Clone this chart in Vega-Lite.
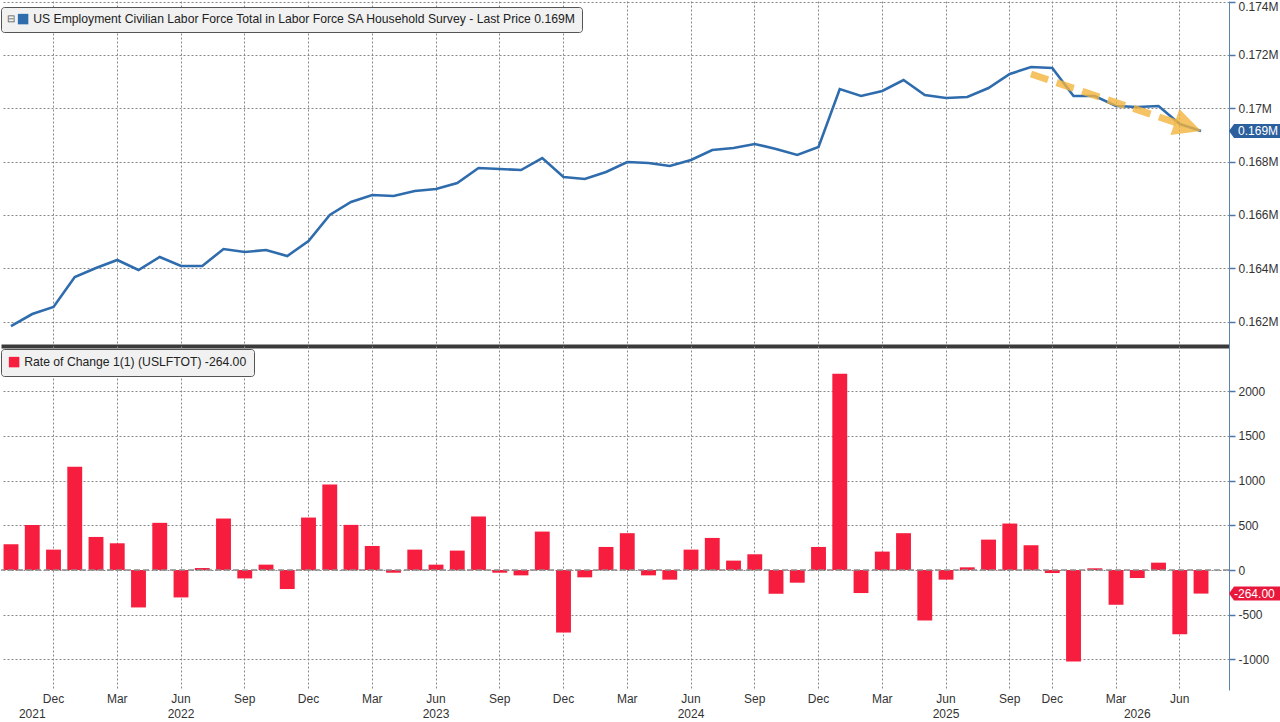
{
  "$schema": "https://vega.github.io/schema/vega-lite/v6.json",
  "padding": 0,
  "spacing": 0,
  "background": "#ffffff",
  "datasets": {
    "lf": [
      {"m": "2021-10", "v": 161832, "c": 288},
      {"m": "2021-11", "v": 162282, "c": 505},
      {"m": "2021-12", "v": 162545, "c": 228},
      {"m": "2022-01", "v": 163670, "c": 1156},
      {"m": "2022-02", "v": 164008, "c": 370},
      {"m": "2022-03", "v": 164308, "c": 299},
      {"m": "2022-04", "v": 163933, "c": -419},
      {"m": "2022-05", "v": 164421, "c": 528},
      {"m": "2022-06", "v": 164083, "c": -307},
      {"m": "2022-07", "v": 164083, "c": 22},
      {"m": "2022-08", "v": 164721, "c": 576},
      {"m": "2022-09", "v": 164609, "c": -94},
      {"m": "2022-10", "v": 164684, "c": 60},
      {"m": "2022-11", "v": 164458, "c": -213},
      {"m": "2022-12", "v": 165021, "c": 587},
      {"m": "2023-01", "v": 165997, "c": 958},
      {"m": "2023-02", "v": 166485, "c": 505},
      {"m": "2023-03", "v": 166747, "c": 269},
      {"m": "2023-04", "v": 166710, "c": -30},
      {"m": "2023-05", "v": 166897, "c": 228},
      {"m": "2023-06", "v": 166972, "c": 60},
      {"m": "2023-07", "v": 167197, "c": 217},
      {"m": "2023-08", "v": 167760, "c": 599},
      {"m": "2023-09", "v": 167723, "c": -30},
      {"m": "2023-10", "v": 167685, "c": -60},
      {"m": "2023-11", "v": 168135, "c": 430},
      {"m": "2023-12", "v": 167422, "c": -700},
      {"m": "2024-01", "v": 167347, "c": -82},
      {"m": "2024-02", "v": 167610, "c": 258},
      {"m": "2024-03", "v": 167985, "c": 412},
      {"m": "2024-04", "v": 167948, "c": -60},
      {"m": "2024-05", "v": 167835, "c": -108},
      {"m": "2024-06", "v": 168060, "c": 228},
      {"m": "2024-07", "v": 168436, "c": 359},
      {"m": "2024-08", "v": 168511, "c": 105},
      {"m": "2024-09", "v": 168661, "c": 176},
      {"m": "2024-10", "v": 168473, "c": -266},
      {"m": "2024-11", "v": 168248, "c": -142},
      {"m": "2024-12", "v": 168548, "c": 258},
      {"m": "2025-01", "v": 170724, "c": 2197},
      {"m": "2025-02", "v": 170462, "c": -258},
      {"m": "2025-03", "v": 170649, "c": 206},
      {"m": "2025-04", "v": 171062, "c": 412},
      {"m": "2025-05", "v": 170499, "c": -565},
      {"m": "2025-06", "v": 170387, "c": -108},
      {"m": "2025-07", "v": 170424, "c": 30},
      {"m": "2025-08", "v": 170762, "c": 340},
      {"m": "2025-09", "v": 171287, "c": 520},
      {"m": "2025-11", "v": 171550, "c": 277},
      {"m": "2025-12", "v": 171512, "c": -34},
      {"m": "2026-01", "v": 170462, "c": -1025},
      {"m": "2026-02", "v": 170462, "c": 19},
      {"m": "2026-03", "v": 170087, "c": -389},
      {"m": "2026-04", "v": 170049, "c": -90},
      {"m": "2026-05", "v": 170087, "c": 82},
      {"m": "2026-06", "v": 169411, "c": -718},
      {"m": "2026-07", "v": 169148, "c": -264}
    ],
    "arrow": [
      {"m": "2025-11", "v": 171287},
      {"m": "2026-06", "v": 169411}
    ],
    "head": [
      {"m": "2026-07", "v": 169148}
    ],
    "zero": [
      {"z": 0}
    ],
    "last": [
      {"m": "2026-07", "v": 169148, "c": -264, "vt": "0.169M", "ct": "-264.00"}
    ]
  },
  "resolve": {"scale": {"color": "independent"}, "legend": {"color": "independent"}},
  "vconcat": [
    {
      "width": 1228,
      "height": 345,
      "layer": [
        {
          "data": {"name": "lf"},
          "mark": {"type": "line", "strokeWidth": 2.6},
          "encoding": {
            "x": {
              "field": "m", "type": "ordinal", "bandPosition": 0.5,
              "scale": {"type": "band", "domain": ["2021-10","2021-11","2021-12","2022-01","2022-02","2022-03","2022-04","2022-05","2022-06","2022-07","2022-08","2022-09","2022-10","2022-11","2022-12","2023-01","2023-02","2023-03","2023-04","2023-05","2023-06","2023-07","2023-08","2023-09","2023-10","2023-11","2023-12","2024-01","2024-02","2024-03","2024-04","2024-05","2024-06","2024-07","2024-08","2024-09","2024-10","2024-11","2024-12","2025-01","2025-02","2025-03","2025-04","2025-05","2025-06","2025-07","2025-08","2025-09","2025-11","2025-12","2026-01","2026-02","2026-03","2026-04","2026-05","2026-06","2026-07"], "paddingInner": 0.3, "paddingOuter": 0.5435, "align": 0.111},
              "axis": {
                "title": null, "labels": false, "ticks": false, "bandPosition": 0.5,
                "values": ["2021-12","2022-03","2022-06","2022-09","2022-12","2023-03","2023-06","2023-09","2023-12","2024-03","2024-06","2024-09","2024-12","2025-03","2025-06","2025-09","2025-12","2026-03","2026-06"],
                "domain": true, "domainColor": "#3a3a3a", "domainWidth": 4,
                "grid": true, "gridColor": "#888888", "gridDash": [2, 2]
              }
            },
            "y": {
              "field": "v", "type": "quantitative",
              "scale": {"domain": [161082, 174026], "nice": false, "zero": false},
              "axis": {
                "orient": "right", "title": null,
                "values": [162000,163000,164000,165000,166000,167000,168000,169000,170000,171000,172000,173000,174000],
                "labelExpr": "datum.value % 2000 === 0 ? format(datum.value / 1000000, '.3~f') + 'M' : ''",
                "labelOverlap": false, "labelFlush": false,
                "labelBaseline": {"condition": {"test": "datum.value === 174000", "value": "top"}, "value": "middle"},
                "labelPadding": 3, "labelFontSize": 12, "labelColor": "#333333",
                "grid": true, "gridColor": "#888888", "gridDash": [2, 2],
                "gridOpacity": {"condition": {"test": "datum.value % 2000 === 0", "value": 1}, "value": 0},
                "tickSize": {"condition": {"test": "datum.value % 2000 === 0", "value": 6}, "value": 3},
                "tickColor": "#4a78ad", "tickWidth": 1.5,
                "domainColor": "#5b84b1", "domainWidth": 1
              }
            },
            "color": {
              "datum": "US Employment Civilian Labor Force Total in Labor Force SA Household Survey - Last Price 0.169M",
              "scale": {"range": ["#2f6cad"]},
              "legend": {
                "orient": "none", "legendX": 0, "legendY": 6,
                "title": "⊟", "titleOrient": "left", "titleFontSize": 10, "titleColor": "#555555", "titleFontWeight": "normal", "titlePadding": 2,
                "symbolType": "square", "symbolSize": 110, "symbolStrokeWidth": 0,
                "labelFontSize": 12.2, "labelColor": "#222222", "labelLimit": 800, "labelOffset": 4,
                "fillColor": "#f1f1f1", "strokeColor": "#555555", "cornerRadius": 3, "padding": 6,
                "encode": {"symbols": {"update": {"fill": {"value": "#2f6cad"}, "strokeWidth": {"value": 0}}}}
              }
            }
          }
        },
        {
          "data": {"name": "arrow"},
          "mark": {"type": "line", "color": "#f2b43c", "opacity": 0.8, "strokeWidth": 7, "strokeDash": [18, 9], "strokeCap": "butt"},
          "encoding": {
            "x": {"field": "m", "type": "ordinal", "bandPosition": 0.5},
            "y": {"field": "v", "type": "quantitative"}
          }
        },
        {
          "data": {"name": "head"},
          "mark": {"type": "point", "shape": "M0,0L-2.3,-1.15L-2.3,1.15Z", "size": 576, "angle": 19, "filled": true, "color": "#f2b43c", "opacity": 0.8, "strokeWidth": 0},
          "encoding": {
            "x": {"field": "m", "type": "ordinal", "bandPosition": 0.5},
            "y": {"field": "v", "type": "quantitative"}
          }
        },
        {
          "data": {"name": "last"},
          "mark": {"type": "point", "shape": "M3.5,0L4.125,-0.875L10,-0.875L10,0.875L4.125,0.875Z", "size": 256, "filled": true, "color": "#2b5f9e", "opacity": 1, "strokeWidth": 0},
          "encoding": {
            "x": {"field": "m", "type": "ordinal", "bandPosition": 0.5},
            "y": {"field": "v", "type": "quantitative"}
          }
        },
        {
          "data": {"name": "last"},
          "mark": {"type": "text", "align": "left", "baseline": "middle", "dx": 37, "color": "#ffffff", "fontSize": 12},
          "encoding": {
            "x": {"field": "m", "type": "ordinal", "bandPosition": 0.5},
            "y": {"field": "v", "type": "quantitative"},
            "text": {"field": "vt"}
          }
        }
      ]
    },
    {
      "width": 1228,
      "height": 344,
      "layer": [
        {
          "data": {"name": "lf"},
          "mark": {"type": "bar", "color": "#f61d3e"},
          "encoding": {
            "x": {
              "field": "m", "type": "ordinal",
              "scale": {"type": "band", "domain": ["2021-10","2021-11","2021-12","2022-01","2022-02","2022-03","2022-04","2022-05","2022-06","2022-07","2022-08","2022-09","2022-10","2022-11","2022-12","2023-01","2023-02","2023-03","2023-04","2023-05","2023-06","2023-07","2023-08","2023-09","2023-10","2023-11","2023-12","2024-01","2024-02","2024-03","2024-04","2024-05","2024-06","2024-07","2024-08","2024-09","2024-10","2024-11","2024-12","2025-01","2025-02","2025-03","2025-04","2025-05","2025-06","2025-07","2025-08","2025-09","2025-11","2025-12","2026-01","2026-02","2026-03","2026-04","2026-05","2026-06","2026-07"], "paddingInner": 0.3, "paddingOuter": 0.5435, "align": 0.111},
              "axis": {
                "title": null, "ticks": false, "domain": false, "bandPosition": 0.5,
                "values": ["2021-11","2021-12","2022-03","2022-06","2022-09","2022-12","2023-03","2023-06","2023-09","2023-12","2024-03","2024-06","2024-09","2024-12","2025-03","2025-06","2025-09","2025-12","2026-03","2026-04","2026-06"],
                "labelExpr": "[substring(datum.value, 5, 7) === '03' ? 'Mar' : substring(datum.value, 5, 7) === '06' ? 'Jun' : substring(datum.value, 5, 7) === '09' ? 'Sep' : substring(datum.value, 5, 7) === '12' ? 'Dec' : '', indexof(['2021-11', '2022-06', '2023-06', '2024-06', '2025-06', '2026-04'], datum.value) >= 0 ? substring(datum.value, 0, 4) : '']",
                "labelAngle": 0, "labelOverlap": false, "labelBound": false,
                "labelPadding": 3, "labelLineHeight": 15, "labelFontSize": 12, "labelColor": "#333333",
                "grid": true, "gridColor": "#888888", "gridDash": [2, 2],
                "gridOpacity": {"condition": {"test": "datum.value === '2021-11' || datum.value === '2026-04'", "value": 0}, "value": 1}
              }
            },
            "y": {
              "field": "c", "type": "quantitative",
              "scale": {"domain": [-1343, 2507], "nice": false, "zero": false},
              "axis": {
                "orient": "right", "title": null,
                "values": [-1000, -500, 0, 500, 1000, 1500, 2000],
                "labelExpr": "'' + datum.value",
                "labelOverlap": false, "labelFlush": false,
                "labelPadding": 3, "labelFontSize": 12, "labelColor": "#333333",
                "grid": true, "gridColor": "#888888", "gridDash": [2, 2],
                "tickSize": 6, "tickColor": "#4a78ad", "tickWidth": 1.5,
                "domainColor": "#5b84b1", "domainWidth": 1
              }
            },
            "color": {
              "datum": "Rate of Change 1(1) (USLFTOT) -264.00",
              "scale": {"range": ["#f61d3e"]},
              "legend": {
                "orient": "none", "legendX": 0, "legendY": 3, "title": null,
                "symbolType": "square", "symbolSize": 110, "symbolStrokeWidth": 0,
                "labelFontSize": 12.2, "labelColor": "#222222", "labelLimit": 800, "labelOffset": 4,
                "fillColor": "#f1f1f1", "strokeColor": "#555555", "cornerRadius": 3, "padding": 7
              }
            }
          }
        },
        {
          "data": {"name": "zero"},
          "mark": {"type": "rule", "color": "#8c8c8c", "strokeDash": [6, 3], "strokeWidth": 1.5},
          "encoding": {"y": {"field": "z", "type": "quantitative"}}
        },
        {
          "data": {"name": "last"},
          "mark": {"type": "point", "shape": "M3.5,0L4.125,-0.875L10,-0.875L10,0.875L4.125,0.875Z", "size": 256, "filled": true, "color": "#e8173c", "opacity": 1, "strokeWidth": 0},
          "encoding": {
            "x": {"field": "m", "type": "ordinal", "bandPosition": 0.5},
            "y": {"field": "c", "type": "quantitative"}
          }
        },
        {
          "data": {"name": "last"},
          "mark": {"type": "text", "align": "left", "baseline": "middle", "dx": 33, "color": "#ffffff", "fontSize": 12},
          "encoding": {
            "x": {"field": "m", "type": "ordinal", "bandPosition": 0.5},
            "y": {"field": "c", "type": "quantitative"},
            "text": {"field": "ct"}
          }
        }
      ]
    }
  ],
  "config": {
    "view": {"stroke": null},
    "font": "Liberation Sans",
    "axis": {"labelFont": "Liberation Sans"},
    "legend": {"labelFont": "Liberation Sans"}
  }
}
